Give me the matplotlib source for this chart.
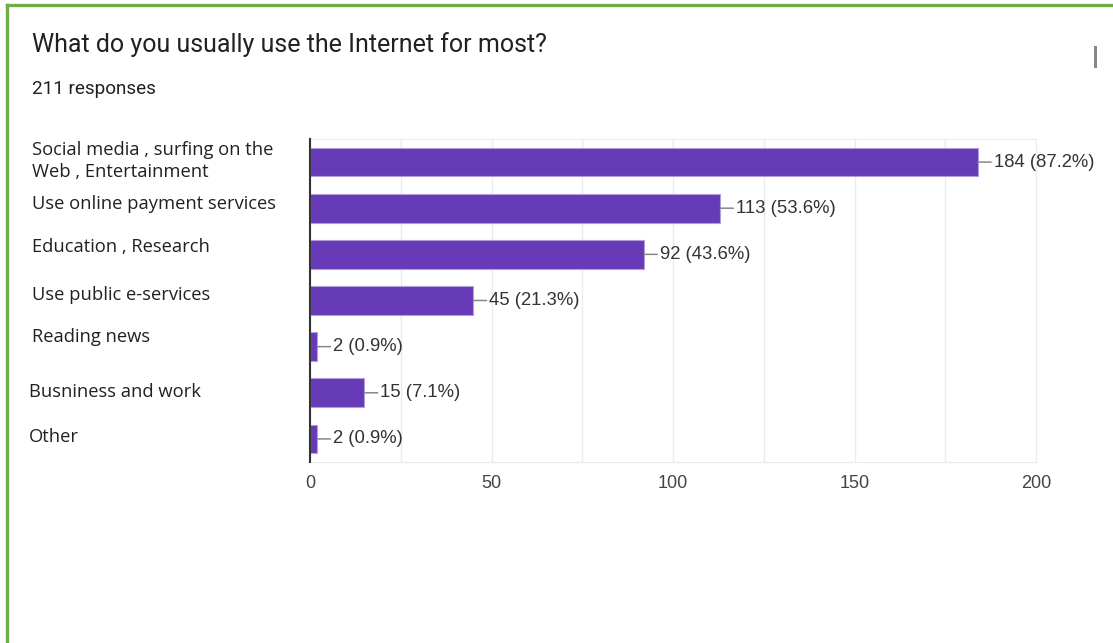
import matplotlib.pyplot as plt
from matplotlib.lines import Line2D
from matplotlib.patches import Rectangle
import matplotlib.transforms as mtransforms

# survey answers, top to bottom
categories = [
    "Social media , surfing on the\nWeb , Entertainment",
    "Use online payment services",
    "Education , Research",
    "Use public e-services",
    "Reading news",
    "Busniness and work",
    "Other",
]
counts = [184, 113, 92, 45, 2, 15, 2]
percents = [87.2, 53.6, 43.6, 21.3, 0.9, 7.1, 0.9]
xticks = [0, 50, 100, 150, 200]

# labels in the screenshot sit a bit off the bar centres
label_shift = [-0.03, -0.09, -0.17, -0.11, -0.2, -0.02, -0.04]
label_x = [32, 32, 32, 32, 32, 29, 29]

W, H = 1113, 643
fig = plt.figure(figsize=(W / 100, H / 100), dpi=100)
fig.patch.set_facecolor("white")

# green card border (left and top)
fig.add_artist(Line2D([7 / W, 7 / W], [0, 1 - 5 / H], color="#70ad47", lw=2.4))
fig.add_artist(Line2D([7 / W, 1], [1 - 5 / H, 1 - 5 / H], color="#70ad47", lw=2.4))
# small scroll mark top right
fig.add_artist(Rectangle((1094 / W, 1 - 68 / H), 3 / W, 22 / H,
                         transform=fig.transFigure, color="#888888", lw=0))

fig.text(32 / W, 1 - 45 / H, "What do you usually use the Internet for most?",
         family="Roboto", fontsize=18, color="#202124", va="center", ha="left")
fig.text(32 / W, 1 - 89 / H, "211 responses",
         family="Roboto", fontsize=13.6, color="#202124", va="center", ha="left")

ax = fig.add_axes([310 / W, 1 - 462 / H, (1036 - 310) / W, (462 - 139) / H])
ypos = list(range(len(categories)))
ax.barh(ypos, counts, height=0.62, color="#673ab7", edgecolor="#b39ddb",
        linewidth=0.8, zorder=3)

ax.set_xlim(0, 200)
ax.set_ylim(len(categories) - 0.5, -0.5)
ax.set_xticks(xticks)
ax.set_xticks(range(0, 201, 25), minor=True)
ax.set_xticklabels([str(t) for t in xticks], family="Liberation Sans",
                   fontsize=13, color="#444444")
ax.tick_params(axis="x", which="both", length=0, pad=9)
ax.set_yticks([])
ax.grid(axis="x", which="both", color="#ebebeb", lw=1, zorder=0)
for s in ["top", "right", "bottom"]:
    ax.spines[s].set_color("#ebebeb")
ax.spines["left"].set_color("#333333")
ax.spines["left"].set_linewidth(1.5)
ax.spines["left"].set_zorder(4)

for i, (c, p) in enumerate(zip(counts, percents)):
    ax.annotate(f"{c} ({p}%)", xy=(c, i), xytext=(16, 0),
                textcoords="offset pixels", ha="left", va="center",
                family="Liberation Sans", fontsize=13.3, color="#333333",
                arrowprops=dict(arrowstyle="-", color="#888888", lw=1.1,
                                shrinkA=0, shrinkB=0))

trans = mtransforms.blended_transform_factory(fig.transFigure, ax.transData)
for name, sh, lx, i in zip(categories, label_shift, label_x, ypos):
    ax.text(lx / W, i + sh, name, transform=trans, ha="left", va="center",
            family="Open Sans", fontsize=13.2, color="#202124",
            linespacing=1.3, clip_on=False)

fig.savefig("out.png", dpi=100)
